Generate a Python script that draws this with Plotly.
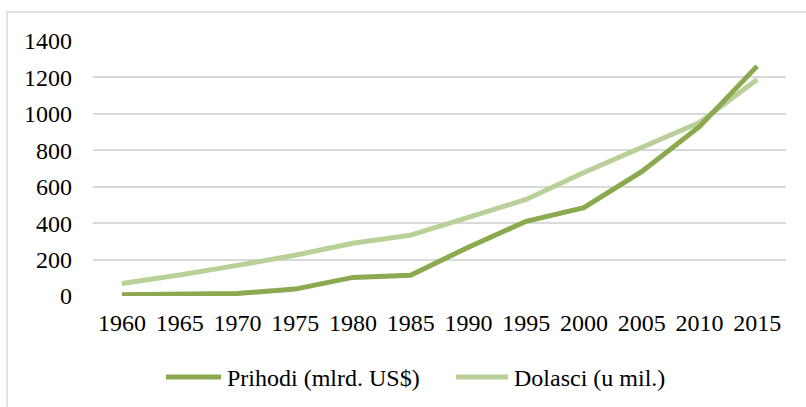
import plotly.graph_objects as go

years = ["1960", "1965", "1970", "1975", "1980", "1985", "1990", "1995", "2000", "2005", "2010", "2015"]
prihodi = [7, 11, 14, 38, 102, 114, 268, 410, 485, 683, 930, 1262]
dolasci = [69, 115, 168, 224, 290, 334, 432, 530, 678, 815, 952, 1188]
y_ticks = [0, 200, 400, 600, 800, 1000, 1200, 1400]
name_prihodi = "Prihodi (mlrd. US$)"
name_dolasci = "Dolasci (u mil.)"

dark = "#8BA94E"
light = "#B9D199"
font_family = "Liberation Serif"
fsize = 24

fig = go.Figure()
fig.add_trace(go.Scatter(x=years, y=dolasci, mode="lines", name=name_dolasci,
                         line=dict(color=light, width=5), showlegend=False))
fig.add_trace(go.Scatter(x=years, y=prihodi, mode="lines", name=name_prihodi,
                         line=dict(color=dark, width=5), showlegend=False))

W, H = 806, 407
L, R, T, B = 93, 20, 41, 111
pw, ph = W - L - R, H - T - B

def px(x):
    return (x - L) / pw

def py(y):
    return (H - B - y) / ph

fig.update_layout(
    width=W, height=H,
    margin=dict(l=L, r=R, t=T, b=B),
    paper_bgcolor="white", plot_bgcolor="white",
    font=dict(family=font_family, size=fsize, color="#000000"),
    xaxis=dict(type="category", range=[-0.5, 11.5], showgrid=False,
               showline=False, zeroline=False, ticks="",
               ticklabelstandoff=10, fixedrange=True),
    yaxis=dict(range=[0, 1400], tickvals=y_ticks, showgrid=True,
               gridcolor="#D9D9D9", gridwidth=1.5, zeroline=False,
               showline=False, ticks="", ticklabelstandoff=20, fixedrange=True),
)

# chart border (cropped on right and bottom)
fig.add_shape(type="rect", xref="paper", yref="paper",
              x0=px(7), x1=px(830), y0=py(430), y1=py(12),
              line=dict(color="#D9D9D9", width=1.5), layer="below")

# legend
for x0, x1, tx, col, name in [(166, 221, 225, dark, name_prihodi),
                              (456, 508, 512, light, name_dolasci)]:
    fig.add_shape(type="line", xref="paper", yref="paper",
                  x0=px(x0), x1=px(x1), y0=py(377), y1=py(377),
                  line=dict(color=col, width=5))
    fig.add_annotation(xref="paper", yref="paper", x=px(tx), y=py(378),
                       text=name, showarrow=False, xanchor="left", yanchor="middle",
                       font=dict(family=font_family, size=fsize, color="#000000"))

fig.write_html("out.html", config={"displayModeBar": False},
               post_script="document.body.style.margin='0px';")
